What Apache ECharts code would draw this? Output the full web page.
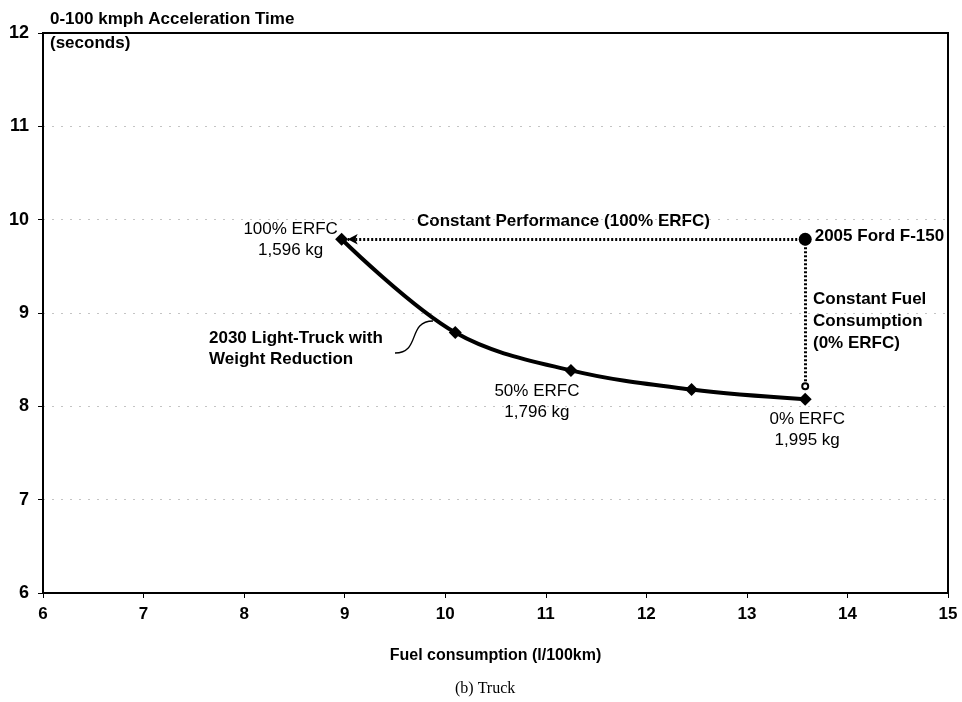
<!DOCTYPE html>
<html><head><meta charset="utf-8">
<script src="https://cdn.jsdelivr.net/npm/echarts@6/dist/echarts.min.js"></script>
<style>html,body{margin:0;padding:0;background:#fff}#c{width:962px;height:702px}</style>
</head><body><div id="c"></div>
<script>
// Data
const curveX = [8.97, 10.10, 11.25, 12.45, 13.58];
const curveY = [9.79, 8.79, 8.385, 8.18, 8.075];
const curveLabels = ['100% ERFC\n1,596 kg', '', '50% ERFC\n1,796 kg', '', '0% ERFC\n1,995 kg'];
const fordX = 13.58, fordY = 9.79;
const xTicks = [6, 7, 8, 9, 10, 11, 12, 13, 14, 15];
const yTicks = [6, 7, 8, 9, 10, 11, 12];

const FONT = '"Liberation Sans", Arial, sans-serif';
const chart = echarts.init(document.getElementById('c'), null, {renderer: 'canvas'});

const labelOffsets = [[-51, 1], null, [-34, 31], null, [2, 30]];
const curveData = curveX.map((x, i) => {
  const d = {value: [x, curveY[i]]};
  if (curveLabels[i]) {
    d.label = {show: true, formatter: curveLabels[i], position: 'inside', offset: labelOffsets[i],
      color: '#000', fontFamily: FONT, fontSize: 17, lineHeight: 21, align: 'center'};
  }
  return d;
});

chart.setOption({
  animation: false,
  grid: {left: 43, right: 14, top: 33, bottom: 109, show: true, borderColor: '#000', borderWidth: 2, z: 3},
  xAxis: {
    type: 'value', min: xTicks[0], max: xTicks[xTicks.length - 1], interval: 1,
    axisLine: {onZero: false, lineStyle: {color: '#000', width: 2}},
    axisTick: {show: true, length: 5, lineStyle: {color: '#000'}},
    axisLabel: {color: '#000', fontFamily: FONT, fontWeight: 'bold', fontSize: 17, margin: 13},
    splitLine: {show: false},
    name: 'Fuel consumption (l/100km)', nameLocation: 'middle', nameGap: 55,
    nameTextStyle: {color: '#000', fontFamily: FONT, fontWeight: 'bold', fontSize: 16}
  },
  yAxis: {
    type: 'value', min: yTicks[0], max: yTicks[yTicks.length - 1], interval: 1,
    axisLine: {onZero: false, lineStyle: {color: '#000', width: 2}},
    axisTick: {show: true, length: 5, lineStyle: {color: '#000'}},
    axisLabel: {color: '#000', fontFamily: FONT, fontWeight: 'bold', fontSize: 18, margin: 14},
    splitLine: {show: true, showMinLine: false, showMaxLine: false, lineStyle: {color: '#c4c4c4', type: [2, 7], width: 1}}
  },
  series: [
    {
      type: 'line', smooth: 0.35, data: curveData, symbol: 'diamond', symbolSize: 13,
      lineStyle: {color: '#000', width: 4}, itemStyle: {color: '#000'}, z: 5,
      markLine: {
        silent: true, symbol: ['none', 'arrow'], symbolSize: [8, 10],
        lineStyle: {color: '#000', type: [2, 2], width: 3},
        label: {show: false},
        data: [
          [{coord: [fordX, fordY]}, {coord: [curveX[0] + 0.06, fordY], symbol: 'arrow'}],
          [{coord: [fordX, fordY]}, {coord: [fordX, curveY[4] + 0.14], symbol: 'emptyCircle', symbolSize: 6}]
        ]
      }
    },
    {
      type: 'scatter', data: [[fordX, fordY]], symbol: 'circle', symbolSize: 13,
      itemStyle: {color: '#000', opacity: 1}, z: 6,
      label: {show: true, position: 'right', distance: 3, offset: [0, -3], formatter: '2005 Ford F-150',
        color: '#000', fontFamily: FONT, fontWeight: 'bold', fontSize: 17}
    }
  ],
  graphic: [
    {type: 'text', left: 50, top: 11, style: {text: '0-100 kmph Acceleration Time', fill: '#000', font: 'bold 17px ' + FONT}},
    {type: 'text', left: 50, top: 35, style: {text: '(seconds)', fill: '#000', font: 'bold 17px ' + FONT}},
    {type: 'text', left: 417, top: 213, style: {text: 'Constant Performance (100% ERFC)', fill: '#000', font: 'bold 17px ' + FONT}},
    {type: 'text', left: 813, top: 288, style: {text: 'Constant Fuel\nConsumption\n(0% ERFC)', fill: '#000', font: 'bold 17px ' + FONT, lineHeight: 22}},
    {type: 'text', left: 209, top: 328, style: {text: '2030 Light-Truck with\nWeight Reduction', fill: '#000', font: 'bold 17px ' + FONT, lineHeight: 21}},
    {type: 'bezierCurve', shape: {x1: 395, y1: 353, x2: 433, y2: 321, cpx1: 421, cpy1: 353, cpx2: 407, cpy2: 321},
      style: {stroke: '#000', lineWidth: 1.3, fill: null}},
    {type: 'text', left: 455, top: 681, style: {text: '(b) Truck', fill: '#000', font: '16px "Liberation Serif", "Times New Roman", serif'}}
  ]
});
</script></body></html>
